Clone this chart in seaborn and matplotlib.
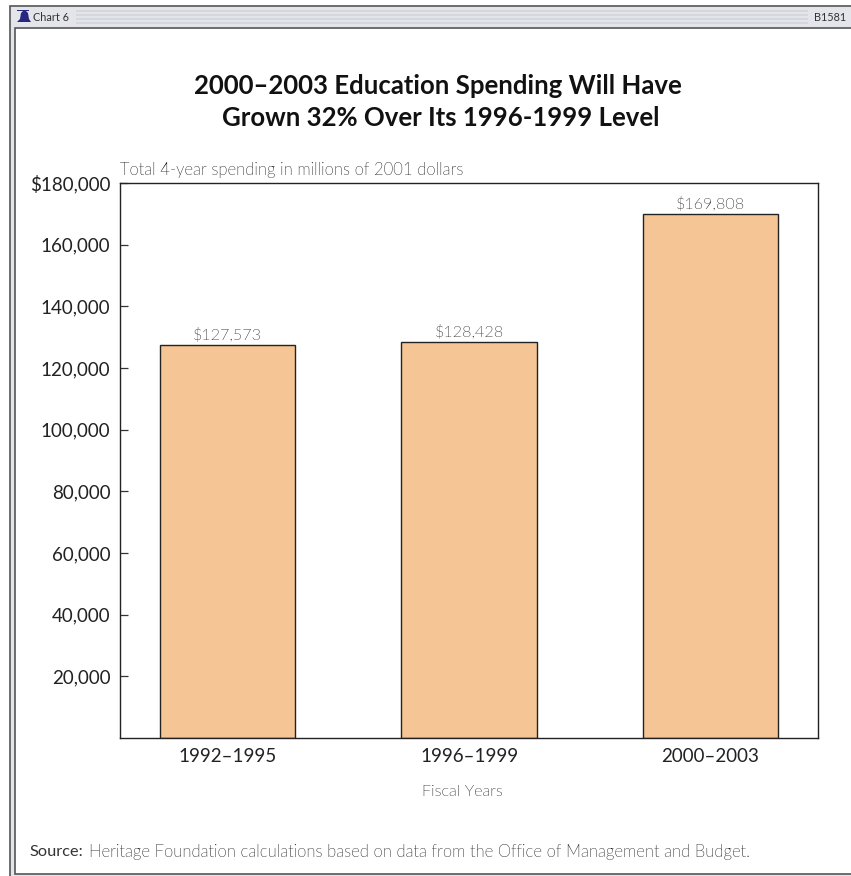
import matplotlib
matplotlib.use("Agg")
import matplotlib.pyplot as plt
from matplotlib import font_manager as fm
import pandas as pd
import seaborn as sns
from matplotlib.patches import Rectangle, Polygon

periods = ["1992–1995", "1996–1999", "2000–2003"]
spending = [127573, 128428, 169808]
value_labels = ["$127,573", "$128,428", "$169,808"]
y_ticks = [20000, 40000, 60000, 80000, 100000, 120000, 140000, 160000, 180000]
y_labels = ["20,000", "40,000", "60,000", "80,000", "100,000", "120,000",
            "140,000", "160,000", "$180,000"]

W, H = 851, 876
BAR = "#f5c595"
INK = "#222222"
GREY = "#0c0c0c"

sns.set_theme(style="white")
plt.rcParams["font.family"] = ["Lato", "DejaVu Sans"]

# Lato's light cut, looked up by file so the hairline cut is not chosen instead
light_files = [f.fname for f in fm.fontManager.ttflist
               if f.name.startswith("Lato") and f.fname.endswith("Light.ttf")
               and "Hairline" not in f.fname and "Thin" not in f.fname]


def light(size):
    if light_files:
        return fm.FontProperties(fname=light_files[0], size=size)
    return fm.FontProperties(family="Lato", size=size)


fig = plt.figure(figsize=(W / 100, H / 100), dpi=100, facecolor="white")


def px_axes(left, top, right, bottom):
    return [left / W, 1 - bottom / H, (right - left) / W, (bottom - top) / H]


# Page furniture: frame, header band and logo, in pixel coordinates
page = fig.add_axes([0, 0, 1, 1], zorder=0)
page.set_xlim(0, W)
page.set_ylim(H, 0)
page.axis("off")
page.add_patch(Rectangle((9.5, 5.5), W, H, fc="#e3e5ea", ec="#555555", lw=1.2))
page.add_patch(Rectangle((14.5, 27.5), W, 846.5, fc="white", ec="#555555", lw=1.2))
for y in (11, 15, 19, 23):
    page.plot([76, 808], [y, y], color="#d3d7dc", lw=1.3, solid_capstyle="butt")
page.add_patch(Polygon([(17, 22), (20, 19), (21, 13), (23, 11), (26, 11), (28, 13),
                        (29, 19), (31, 22)], closed=True, fc="#27277f", ec="none"))
page.add_patch(Rectangle((17, 9.5), 12, 1.3, fc="#27277f", ec="none"))
page.text(33, 17.5, "Chart 6", fontsize=7.8, color="#333333", va="center", ha="left")
page.text(846, 17.5, "B1581", fontsize=7.8, color="#333333", va="center", ha="right")

page.text(437.5, 86, "2000–2003 Education Spending Will Have", fontsize=18.5, fontweight="bold",
          color="#111111", ha="center", va="center")
page.text(440.5, 118, "Grown 32% Over Its 1996-1999 Level", fontsize=18.5, fontweight="bold",
          color="#111111", ha="center", va="center")
page.text(120, 170, "Total 4-year spending in millions of 2001 dollars",
          fontproperties=light(12), color=GREY, ha="left", va="center")
page.text(462.5, 792.5, "Fiscal Years", fontproperties=light(11.7), color=GREY,
          ha="center", va="center")
page.text(30, 852, "Source:", fontsize=11.8, color="#333333", ha="left", va="center")
page.text(89, 852, "Heritage Foundation calculations based on data from the Office of "
          "Management and Budget.", fontproperties=light(12), color=GREY,
          ha="left", va="center")

# Bar chart
ax = fig.add_axes(px_axes(120, 183, 818, 738), zorder=1)
data = pd.DataFrame({"period": periods, "spending": spending})
sns.barplot(data=data, x="period", y="spending", color=BAR, saturation=1, width=0.56,
            edgecolor="#222222", linewidth=1.0, ax=ax)
ax.set_xlim(-0.445, 2.445)
ax.set_ylim(0, 180000)
ax.set_xlabel("")
ax.set_ylabel("")
ax.set_yticks(y_ticks)
ax.set_yticklabels(y_labels, fontsize=13.5, color=INK)
ax.tick_params(axis="y", direction="in", length=6, width=0.9, color="#333333", pad=7, left=True)
ax.tick_params(axis="x", length=0, pad=7, labelsize=13.5, labelcolor=INK)
for spine in ax.spines.values():
    spine.set_visible(True)
    spine.set_color("#222222")
    spine.set_linewidth(1.0)
for i, (value, label) in enumerate(zip(spending, value_labels)):
    ax.annotate(label, (i, value), xytext=(0, 1.5), textcoords="offset points", ha="center",
                va="bottom", fontproperties=light(11.6), color=GREY)

fig.savefig("out.png", dpi=100, facecolor="white")
